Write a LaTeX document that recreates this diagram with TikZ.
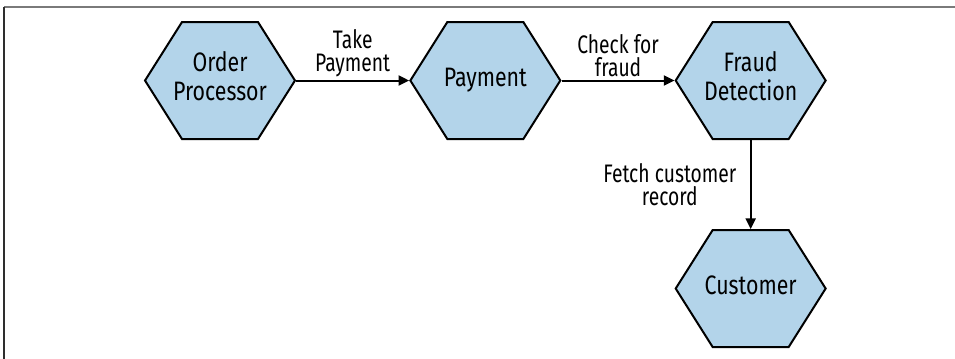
\documentclass[tikz,border=0pt]{standalone}
\usepackage{fontspec}
\setmainfont{Fira Sans}[FakeStretch=0.76]
\newfontfamily\hexfont{Fira Sans}[FakeStretch=0.8]
\usetikzlibrary{arrows.meta,positioning,shapes.symbols}
\definecolor{hexfill}{HTML}{B3D4EA}
\definecolor{framegray}{HTML}{7A7A7A}
\definecolor{framedark}{HTML}{2E2E2E}
% flat top of every hexagon is this wide; the text may run past it
\newcommand{\hexlbl}[1]{\makebox[57pt]{\begin{tabular}{@{}c@{}}#1\end{tabular}}}

\begin{document}
\begin{tikzpicture}[
  hexa/.style = {signal, signal to=west and east, signal pointer angle=115.4,
                 draw=black, line width=1.5pt, fill=hexfill,
                 minimum height=87.75pt, inner sep=0pt,
                 font=\hexfont\fontsize{20}{21.5}\selectfont},
  ln/.style   = {-{Triangle[length=8pt, width=7.5pt]}, draw=black, line width=1.5pt},
  lbl/.style  = {align=center, font=\fontsize{19}{17}\selectfont, inner sep=2pt},
]
\useasboundingbox (0,0) rectangle (716.25pt,-269.25pt);

% --- the frame, open on two sides ----------------------------------------------------------------
\coordinate (frametl) at (3pt,-5pt);
\draw[framegray, line width=1.3pt] (frametl) -- (716.25pt,-5pt);
\draw[framedark, line width=1.3pt] (frametl) -- (3pt,-269.25pt);

% --- the four services ---------------------------------------------------------------------------
\node[hexa] (order) at (165pt,-60.4pt) {\hexlbl{Order\\Processor}};
\node[hexa, right=84.75pt of order] (payment) {\hexlbl{Payment}};
\node[hexa, right=84.75pt of payment] (fraud) {\hexlbl{Fraud\\Detection}};
\node[hexa, below=66.75pt of fraud] (customer) {\hexlbl{Customer}};

% --- the calls between them ----------------------------------------------------------------------
\draw[ln] (order.east) -- node[lbl, above] {Take\\Payment} (payment.west);
\draw[ln] (payment.east) -- node[lbl, above] {Check for\\fraud} (fraud.west);
\draw[ln] (fraud.south) -- node[lbl, left=8pt] {Fetch customer\\record} (customer.north);

\end{tikzpicture}
\end{document}
